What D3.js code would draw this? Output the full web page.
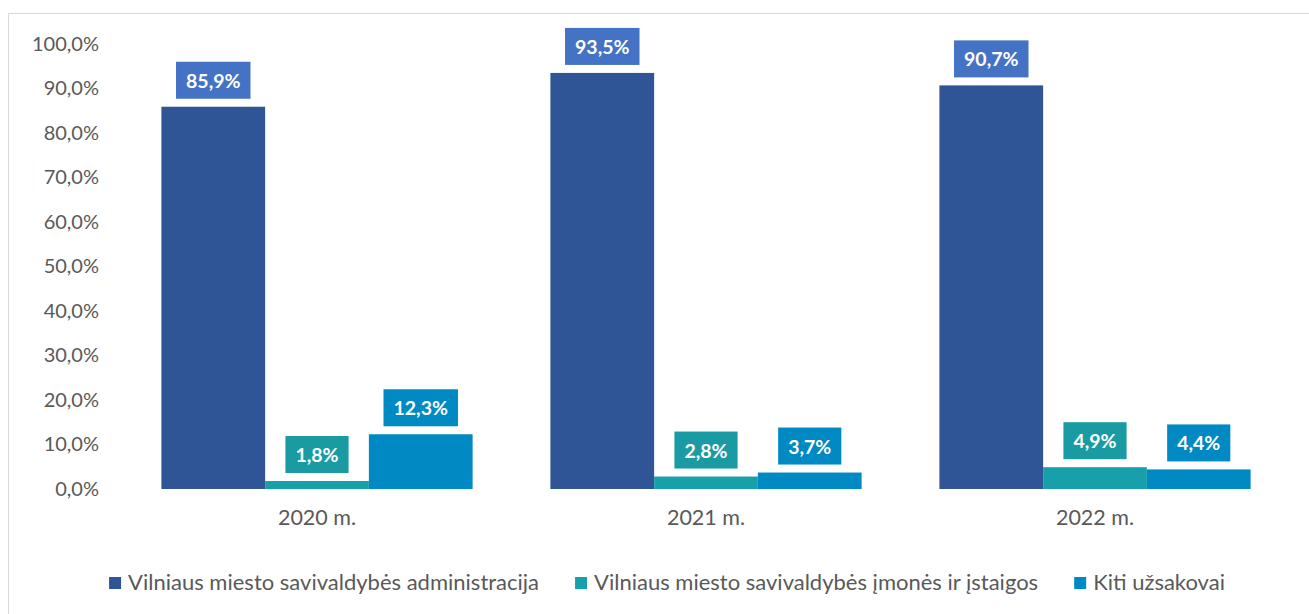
<!DOCTYPE html>
<html><head><meta charset="utf-8">
<script src="https://cdn.jsdelivr.net/npm/d3@7"></script>
<style>html,body{margin:0;padding:0;background:#fff;}svg{display:block;}</style>
</head><body>
<svg id="chart" width="1309" height="614"></svg>
<script>
const categories = ["2020 m.", "2021 m.", "2022 m."];
const seriesNames = ["Vilniaus miesto savivaldybės administracija", "Vilniaus miesto savivaldybės įmonės ir įstaigos", "Kiti užsakovai"];
const administracija = [85.9, 93.5, 90.7];
const imones = [1.8, 2.8, 4.9];
const kiti = [12.3, 3.7, 4.4];
const yTicks = [0, 10, 20, 30, 40, 50, 60, 70, 80, 90, 100];

const barColors = ["#2F5597", "#17A0AA", "#0089C2"];
const labelColors = ["#4472C4", "#1A9BA3", "#0089C2"];
const series = [administracija, imones, kiti];

const svg = d3.select("#chart");
const font = "Lato, 'Open Sans', sans-serif";

// frame
svg.append("rect").attr("x", 8.5).attr("y", 13.5).attr("width", 1320).attr("height", 620)
  .attr("fill", "none").attr("stroke", "#D9D9D9").attr("stroke-width", 1);

const y = d3.scaleLinear().domain([0, 100]).range([489, 44]);
const x0 = d3.scaleBand().domain(categories).range([122.5, 1289.5]).paddingInner(0.2).paddingOuter(0.1);
const x1 = d3.scaleBand().domain(d3.range(3)).range([0, x0.bandwidth()]);

const fmt = v => d3.format(".1f")(v).replace(".", ",") + "%";

// y axis
const yAxis = d3.axisLeft(y).tickValues(yTicks).tickSize(0).tickPadding(0).tickFormat(fmt);
const gy = svg.append("g").attr("transform", "translate(99,0)").call(yAxis);
gy.select(".domain").remove();
gy.selectAll("text").attr("fill", "#595959").style("font-family", font).style("font-size", "20px");

// x axis
const xAxis = d3.axisBottom(x0).tickSize(0).tickPadding(0);
const gx = svg.append("g").attr("transform", "translate(0,510)").call(xAxis);
gx.select(".domain").remove();
gx.selectAll("text").attr("fill", "#595959").style("font-family", font).style("font-size", "21.5px");

// bars
const data = [];
categories.forEach((c, i) => series.forEach((s, j) => data.push({c, j, v: s[i]})));

svg.append("g").selectAll("rect").data(data).join("rect")
  .attr("x", d => x0(d.c) + x1(d.j))
  .attr("y", d => y(d.v))
  .attr("width", x1.bandwidth())
  .attr("height", d => y(0) - y(d.v))
  .attr("fill", d => barColors[d.j]);

// labels
const lg = svg.append("g").selectAll("g").data(data).join("g");
lg.each(function(d) {
  const g = d3.select(this);
  const cx = x0(d.c) + x1(d.j) + x1.bandwidth() / 2;
  const bottom = y(d.v) - 8;
  const t = g.append("text").text(fmt(d.v).replace(",0%", "%"))
    .attr("x", cx).attr("y", bottom - 11)
    .attr("text-anchor", "middle").attr("fill", "#fff")
    .style("font-family", font).style("font-size", "19.5px").style("font-weight", "bold");
  const w = t.node().getComputedTextLength() + 20;
  g.insert("rect", "text").attr("x", cx - w / 2).attr("y", bottom - 37)
    .attr("width", w).attr("height", 37).attr("fill", labelColors[d.j]);
});

// legend
const leg = svg.append("g");
let xpos = 0;
const gap = 36;
seriesNames.forEach((n, i) => {
  const g = leg.append("g");
  g.append("rect").attr("x", 0).attr("y", -13).attr("width", 12).attr("height", 12).attr("fill", barColors[i]);
  const t = g.append("text").text(n).attr("x", 19).attr("y", 0).attr("fill", "#595959")
    .style("font-family", font).style("font-size", "22px");
  const w = 19 + t.node().getComputedTextLength();
  g.attr("transform", `translate(${xpos},0)`);
  xpos += w + gap;
});
const totalW = xpos - gap;
leg.attr("transform", `translate(${667 - totalW / 2},590)`);
</script>
</body></html>
